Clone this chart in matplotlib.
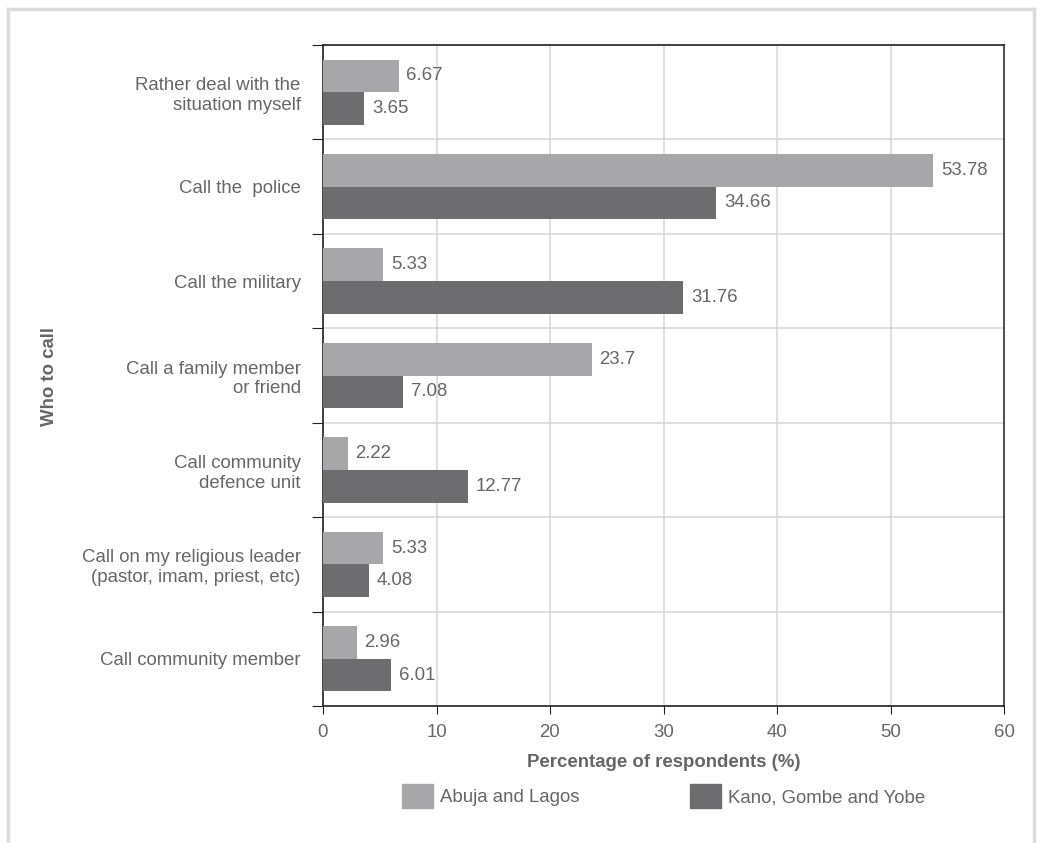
import matplotlib
matplotlib.use("Agg")
import matplotlib.pyplot as plt
import numpy as np
from matplotlib.lines import Line2D
from matplotlib.patches import Patch

# =========================
# Data
# =========================
categories = [
    "Rather deal with the\nsituation myself",
    "Call the  police",
    "Call the military",
    "Call a family member\nor friend",
    "Call community\ndefence unit",
    "Call on my religious leader\n(pastor, imam, priest, etc)",
    "Call community member",
]
abuja_lagos = [6.67, 53.78, 5.33, 23.7, 2.22, 5.33, 2.96]
kano_gombe_yobe = [3.65, 34.66, 31.76, 7.08, 12.77, 4.08, 6.01]
series_names = ["Abuja and Lagos", "Kano, Gombe and Yobe"]

LIGHT = "#a7a7aa"
DARK = "#6d6d6f"
TEXT = "#666666"
FS = 13.4

plt.rcParams["font.family"] = ["Liberation Sans", "DejaVu Sans"]

fig = plt.figure(figsize=(10.42, 8.43), dpi=100)
ax = fig.add_axes([323 / 1042, 1 - 706 / 843, (1004 - 323) / 1042, (706 - 45) / 843])

n = len(categories)
y = np.arange(n)
h = 0.345

ax.barh(y - h / 2, abuja_lagos, height=h, color=LIGHT, zorder=3)
ax.barh(y + h / 2, kano_gombe_yobe, height=h, color=DARK, zorder=3)

# value labels
for i in range(n):
    ax.text(abuja_lagos[i] + 0.65, y[i] - h / 2, f"{abuja_lagos[i]:g}",
            va="center", ha="left", fontsize=FS, color=TEXT, zorder=4)
    ax.text(kano_gombe_yobe[i] + 0.65, y[i] + h / 2, f"{kano_gombe_yobe[i]:g}",
            va="center", ha="left", fontsize=FS, color=TEXT, zorder=4)

ax.set_xlim(0, 60)
ax.set_ylim(n - 0.5, -0.5)
ax.set_xticks(np.arange(0, 61, 10))

# category labels in the middle, ticks at the boundaries
ax.set_yticks(np.arange(-0.5, n, 1.0))
ax.set_yticklabels([])
ax.set_yticks(y, minor=True)
ax.set_yticklabels(categories, minor=True, ha="right", fontsize=FS, color=TEXT)
ax.tick_params(axis="y", which="minor", length=0, pad=16)
ax.tick_params(axis="y", which="major", length=8, direction="out", color="#222222")
ax.tick_params(axis="x", length=6, direction="out", labelsize=FS, labelcolor=TEXT,
               color="#222222", pad=7)

ax.grid(True, which="major", color="#d9d9d9", linewidth=1.2, zorder=0)
ax.set_axisbelow(True)

for side in ["left", "bottom", "top"]:
    ax.spines[side].set_color("#222222")
    ax.spines[side].set_linewidth(1.2)
ax.spines["right"].set_color("#555555")
ax.spines["right"].set_linewidth(1.5)

ax.set_xlabel("Percentage of respondents (%)", fontsize=FS, fontweight="bold",
              color=TEXT, labelpad=9)
fig.text(50 / 1042, 1 - 376 / 843, "Who to call", rotation=90, fontsize=FS,
         fontweight="bold", color=TEXT, ha="center", va="center")

# legend
handles = [Patch(color=LIGHT), Patch(color=DARK)]
fig.legend(handles, series_names, loc="center", bbox_to_anchor=(0.637, 1 - 796 / 843),
           ncol=2, frameon=False, fontsize=FS, labelcolor=TEXT,
           handlelength=1.67, handleheight=1.67, handletextpad=0.38, columnspacing=5.9)

# outer frame (open at the bottom)
frame_c = "#dcdcdc"
fig.add_artist(Line2D([8 / 1042, 8 / 1042], [0, 1 - 9 / 843], color=frame_c, lw=2.5))
fig.add_artist(Line2D([8 / 1042, 1034 / 1042], [1 - 9 / 843, 1 - 9 / 843], color=frame_c, lw=2.5))
fig.add_artist(Line2D([1034 / 1042, 1034 / 1042], [0, 1 - 9 / 843], color=frame_c, lw=2.5))

plt.savefig("out.png", dpi=100)
plt.close()
